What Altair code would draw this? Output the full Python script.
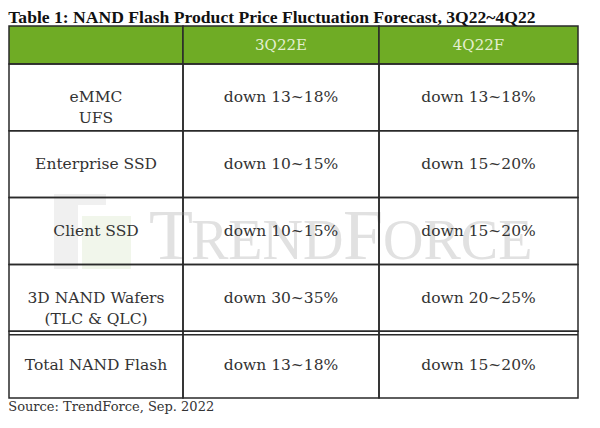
import altair as alt
import pandas as pd

title_text = "Table 1: NAND Flash Product Price Fluctuation Forecast, 3Q22~4Q22"
source_text = "Source: TrendForce, Sep. 2022"
watermark_parts = ["T", "REND", "F", "ORCE"]

column_headers = ["", "3Q22E", "4Q22F"]
products = ["eMMC\nUFS", "Enterprise SSD", "Client SSD", "3D NAND Wafers\n(TLC & QLC)", "Total NAND Flash"]
q3_22e = ["down 13~18%", "down 10~15%", "down 10~15%", "down 30~35%", "down 13~18%"]
q4_22f = ["down 13~18%", "down 15~20%", "down 15~20%", "down 20~25%", "down 15~20%"]

GREEN = "#6FAC25"
HEAD_TEXT = "#E4EFD2"
LINE = "#2a2a2a"
TEXT = "#333333"
FONT = "DejaVu Serif"
LW = 1.5

col_widths = [174, 196, 199]
HEADER_H = 38
BODY_H = 334

band = alt.Scale(paddingInner=0, paddingOuter=0)


def header_chart(label, w):
    df = pd.DataFrame({"col": [label if label else "-"], "hdr": ["h"], "label": [label]})
    base = alt.Chart(df).encode(
        x=alt.X("col:N", axis=None, scale=band),
        y=alt.Y("hdr:N", axis=None, scale=band),
    )
    rect = base.mark_rect(fill=GREEN, stroke=LINE, strokeWidth=LW)
    txt = base.mark_text(font=FONT, fontSize=15, color=HEAD_TEXT).encode(text="label:N")
    return alt.layer(rect, txt).properties(width=w, height=HEADER_H)


def logo_layers():
    one = pd.DataFrame({"k": [0]})
    gray, green = "#f0f0f0", "#f1f6eb"
    return [
        alt.Chart(one).mark_rect(color=gray).encode(
            x=alt.value(45), x2=alt.value(69), y=alt.value(130), y2=alt.value(205)
        ),
        alt.Chart(one).mark_rect(color=gray).encode(
            x=alt.value(45), x2=alt.value(97), y=alt.value(130), y2=alt.value(141)
        ),
        alt.Chart(one).mark_rect(color=green).encode(
            x=alt.value(73), x2=alt.value(122), y=alt.value(152), y2=alt.value(205)
        ),
    ]


def watermark_layers():
    wm_df = pd.DataFrame({"t": watermark_parts})
    wm_color = "#e1e1e1"
    big, small = 72, 56
    spec = [("T", -34, big), ("REND", 8, small), ("F", 160, big), ("ORCE", 200, small)]
    layers = []
    for part, xloc, size in spec:
        layers.append(
            alt.Chart(wm_df)
            .transform_filter(alt.datum.t == part)
            .mark_text(font="Liberation Serif", fontSize=size, color=wm_color,
                       align="left", baseline="alphabetic")
            .encode(text="t:N", x=alt.value(xloc), y=alt.value(195))
        )
    return layers


def body_chart(values, w, name, watermark=False, logo=False, source=False):
    df = pd.DataFrame({"col": [name] * len(products), "row": products, "value": values})
    base = alt.Chart(df).encode(
        x=alt.X("col:N", axis=None, scale=band),
        y=alt.Y("row:N", axis=None, sort=products, scale=band),
    )
    rect = base.mark_rect(fillOpacity=0, stroke=LINE, strokeWidth=LW)
    txt = base.mark_text(font=FONT, fontSize=15.5, color=TEXT, lineBreak="\n", lineHeight=21).encode(
        text="value:N"
    )
    dbl = (
        alt.Chart(df)
        .transform_filter(alt.datum.row == products[-1])
        .mark_rule(stroke=LINE, strokeWidth=LW, yOffset=3.5)
        .encode(y=alt.Y("row:N", axis=None, sort=products, scale=band, bandPosition=0))
    )
    layers = []
    if logo:
        layers += logo_layers()
    if watermark:
        layers += watermark_layers()
    layers += [rect, dbl, txt]
    props = dict(width=w, height=BODY_H)
    if source:
        props["title"] = alt.TitleParams(
            source_text, orient="bottom", anchor="start", font=FONT, fontSize=13,
            fontWeight="normal", color=TEXT, offset=2,
        )
    return alt.layer(*layers).properties(**props)


names = ["product", "q3", "q4"]
columns = [products, q3_22e, q4_22f]

panels = [header_chart(column_headers[i], col_widths[i]) for i in range(3)] + [
    body_chart(columns[i], col_widths[i], names[i], watermark=(i == 1), logo=(i == 0), source=(i == 0))
    for i in range(3)
]

chart = (
    alt.concat(
        *panels,
        columns=3,
        spacing=0,
        bounds="flush",
        title=alt.TitleParams(
            title_text, anchor="start", font="Liberation Serif", fontSize=17.6,
            fontWeight="bold", color="#111111", offset=-1,
        ),
        padding=0,
        background="white",
    )
    .configure_view(stroke=None)
)

chart.save("out.html", embed_options={"renderer": "svg", "actions": False})
